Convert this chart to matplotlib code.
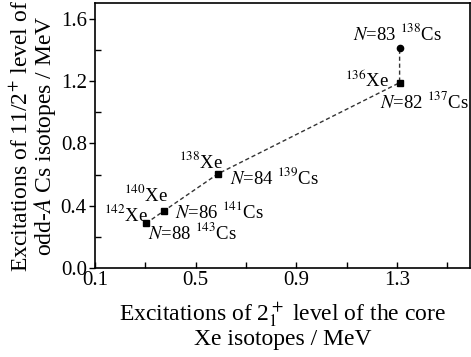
import matplotlib
matplotlib.use("Agg")
import matplotlib.pyplot as plt
from matplotlib.ticker import FixedLocator

plt.rcParams['font.family'] = ['Liberation Serif', 'DejaVu Serif']
plt.rcParams['mathtext.fontset'] = 'stix'

# 2+ energy of Xe core vs 11/2- energy of odd-A Cs
xe_2plus = [0.302, 0.374, 0.588, 1.31, 1.31]
cs_level = [0.287, 0.368, 0.605, 1.19, 1.41]
cs_labels = [r'$N$=88 $^{143}$Cs', r'$N$=86 $^{141}$Cs', r'$N$=84 $^{139}$Cs',
             r'$N$=82 $^{137}$Cs', r'$N$=83 $^{138}$Cs']
xe_labels = [r'$^{142}$Xe', r'$^{140}$Xe', r'$^{138}$Xe', r'$^{136}$Xe']
x_ticks = [0.1, 0.5, 0.9, 1.3]
x_minor = [0.3, 0.7, 1.1, 1.5]
y_ticks = [0.0, 0.4, 0.8, 1.2, 1.6]
y_minor = [0.2, 0.6, 1.0, 1.4]

fig = plt.figure(figsize=(4.71, 3.57), dpi=100)
ax = fig.add_axes([0.202, 0.249, 0.796, 0.742])

ax.plot(xe_2plus, cs_level, ls=(0, (3, 2)), lw=1.0, color='#333333')
ax.plot(xe_2plus[:4], cs_level[:4], ls='none', marker='s', ms=4, color='black')
ax.plot(xe_2plus[4:], cs_level[4:], ls='none', marker='o', ms=4.5, color='black')

fs = 13.5
# Cs labels: (dx, dy) in pixels from the point
cs_off = [(2, -9), (11, -1), (12, -4), (-20, -19), (-47, 15)]
for x, y, t, (dx, dy) in zip(xe_2plus, cs_level, cs_labels, cs_off):
    ax.annotate(t, (x, y), xytext=(dx, dy), textcoords='offset pixels',
                ha='left', va='center', fontsize=fs)
xe_off = [(2, 9), (4, 16), (5, 12), (-10, 3)]
for i, (t, (dx, dy)) in enumerate(zip(xe_labels, xe_off)):
    ax.annotate(t, (xe_2plus[i], cs_level[i]), xytext=(dx, dy),
                textcoords='offset pixels', ha='right', va='center', fontsize=fs)

ax.set_xlim(0.1, 1.59)
ax.set_ylim(0, 1.7)
ax.xaxis.set_major_locator(FixedLocator(x_ticks))
ax.xaxis.set_minor_locator(FixedLocator(x_minor))
ax.yaxis.set_major_locator(FixedLocator(y_ticks))
ax.yaxis.set_minor_locator(FixedLocator(y_minor))
ax.tick_params(axis='x', which='both', direction='in', length=4, width=1)
ax.tick_params(axis='y', which='major', direction='out', length=4, width=1)
ax.tick_params(axis='y', which='minor', direction='in', length=4, width=1)
ax.tick_params(labelsize=15, pad=2)
ax.xaxis.set_major_formatter(plt.FuncFormatter(lambda v, p: f'{v:.1f}'))
ax.yaxis.set_major_formatter(plt.FuncFormatter(lambda v, p: f'{v:.1f}'))
for s in ax.spines.values():
    s.set_linewidth(1.2)

ax.set_xlabel('Excitations of 2$_1^+$ level of the core\nXe isotopes / MeV',
              fontsize=17, linespacing=1.05, labelpad=7)
ax.set_ylabel('Excitations of 11/2$^{+}$ level of\nodd-$A$ Cs isotopes / MeV',
              fontsize=17, linespacing=0.95, labelpad=2)

fig.savefig('out.png', dpi=100)
